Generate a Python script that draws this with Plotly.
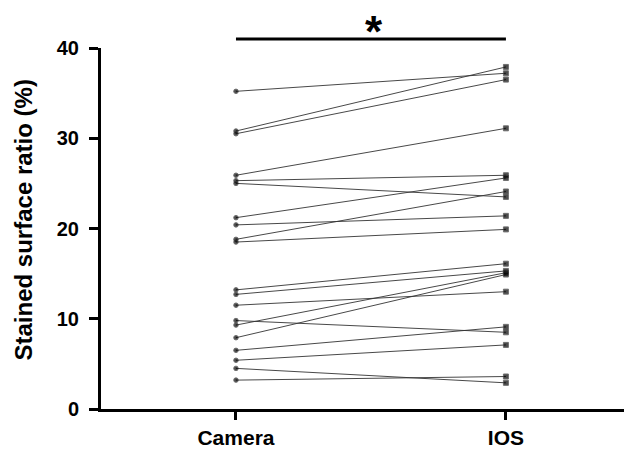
import plotly.graph_objects as go

categories = ["Camera", "IOS"]
camera = [35.2, 30.8, 30.5, 25.9, 25.3, 25.0, 21.2, 20.4, 18.8, 18.5,
          13.2, 12.7, 11.5, 9.8, 9.3, 7.9, 6.5, 5.4, 4.5, 3.2]
ios = [37.2, 37.9, 36.5, 31.1, 25.9, 23.5, 25.6, 21.4, 24.1, 19.9,
       16.1, 15.3, 13.0, 8.5, 15.1, 14.9, 9.1, 7.1, 2.9, 3.6]
y_ticks = [0, 10, 20, 30, 40]
sig_label = "*"

FONT = "Arial, Liberation Sans, sans-serif"

fig = go.Figure()
for a, b in zip(camera, ios):
    fig.add_trace(go.Scatter(
        x=categories, y=[a, b], mode="lines+markers",
        line=dict(color="#333333", width=0.9),
        marker=dict(symbol=["circle", "square"], size=[4.5, 5], color="black"),
        showlegend=False, hoverinfo="y"))

# significance bracket (drawn above the plotting area)
fig.add_shape(type="line", xref="x", yref="paper", x0=categories[0], x1=categories[1],
              y0=1.025, y1=1.025, line=dict(color="black", width=3))
fig.add_annotation(x=0.51, y=1.045, xref="x", yref="paper", text="<b>" + sig_label + "</b>",
                   showarrow=False, yanchor="middle", xanchor="center",
                   font=dict(family=FONT, size=44, color="black"))
fig.add_annotation(x=0, y=0.5, xref="paper", yref="paper",
                   text="<b>Stained surface ratio (%)</b>", textangle=-90,
                   showarrow=False, xanchor="center", yanchor="middle",
                   xshift=-78, yshift=8,
                   font=dict(family=FONT, size=24, color="black"))

fig.update_layout(
    width=624, height=441,
    margin=dict(l=93, r=0, t=40, b=39.5, autoexpand=False),
    paper_bgcolor="white", plot_bgcolor="white",
    font=dict(family=FONT, color="black"),
    xaxis=dict(type="category", range=[-0.5, 1.467], showgrid=False, zeroline=False,
               automargin=False,
               showline=True, linecolor="black", linewidth=3,
               ticks="outside", ticklen=8, tickwidth=3, tickcolor="black",
               tickfont=dict(family=FONT, size=21, color="black"),
               ticklabelstandoff=0,
               tickvals=categories, ticktext=["<b>%s</b>" % c for c in categories]),
    yaxis=dict(range=[0, 40], showgrid=False, zeroline=False,
               automargin=False,
               showline=True, linecolor="black", linewidth=3,
               ticks="outside", ticklen=9, tickwidth=3, tickcolor="black",
               tickvals=y_ticks, ticktext=["<b>%d</b>" % v for v in y_ticks],
               tickfont=dict(family=FONT, size=20, color="black"),
               ticklabelstandoff=6),
)

fig.write_html("out.html")
